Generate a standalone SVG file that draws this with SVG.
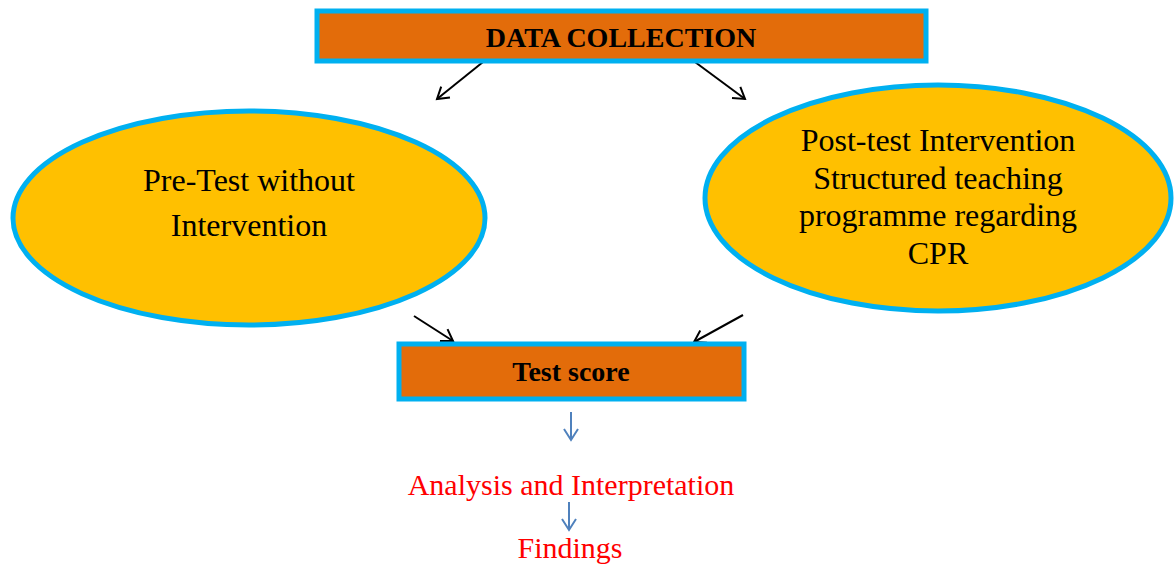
<svg xmlns="http://www.w3.org/2000/svg" width="1176" height="571" viewBox="0 0 1176 571">
<defs>
<style>
.box{fill:#E36C0A;stroke:#00B0F0;stroke-width:5}
.ell{fill:#FFC000;stroke:#00B0F0;stroke-width:5}
.bt{font-family:"Liberation Serif",serif;font-weight:bold;font-size:28px;fill:#000;text-anchor:middle}
.et{font-family:"Liberation Serif",serif;font-size:32px;fill:#000;text-anchor:middle}
.rt{font-family:"Liberation Serif",serif;font-size:30px;fill:#FF0000;text-anchor:middle}
.k{stroke:#000;stroke-width:2;fill:none}
.b{stroke:#4F81BD;stroke-width:2;fill:none}
</style>
<marker id="ah" markerWidth="18" markerHeight="18" refX="13" refY="9" orient="auto" markerUnits="userSpaceOnUse">
<path d="M2,2 L13,9 L2,16" fill="none" stroke="#000" stroke-width="2"/>
</marker>
<marker id="ab" markerWidth="18" markerHeight="18" refX="13" refY="9" orient="auto" markerUnits="userSpaceOnUse">
<path d="M2,2 L13,9 L2,16" fill="none" stroke="#4F81BD" stroke-width="2"/>
</marker>
</defs>
<rect width="1176" height="571" fill="#fff"/>
<g id="connectors">
<line class="k" x1="483" y1="62" x2="437" y2="99" marker-end="url(#ah)"/>
<line class="k" x1="695" y1="62" x2="745" y2="99" marker-end="url(#ah)"/>
<line class="k" x1="414" y1="316" x2="453" y2="341" marker-end="url(#ah)"/>
<line class="k" x1="743" y1="315" x2="694" y2="342" marker-end="url(#ah)"/>
<line class="b" x1="571" y1="412" x2="571" y2="440" marker-end="url(#ab)"/>
<line class="b" x1="569" y1="502" x2="569" y2="530" marker-end="url(#ab)"/>
</g>
<g id="data-collection">
<rect class="box" x="317" y="11" width="609" height="50"/>
<text class="bt" x="621" y="47">DATA COLLECTION</text>
</g>
<g id="pre-test">
<ellipse class="ell" cx="249" cy="218" rx="236" ry="107"/>
<text class="et" x="249" y="191">Pre-Test without</text>
<text class="et" x="249" y="236">Intervention</text>
</g>
<g id="post-test">
<ellipse class="ell" cx="938" cy="198" rx="233" ry="113"/>
<text class="et" x="938" y="151">Post-test Intervention</text>
<text class="et" x="938" y="189">Structured teaching</text>
<text class="et" x="938" y="226">programme regarding</text>
<text class="et" x="938" y="264">CPR</text>
</g>
<g id="test-score">
<rect class="box" x="399" y="344" width="345" height="55"/>
<text class="bt" x="571" y="381">Test score</text>
</g>
<g id="analysis">
<text class="rt" x="571" y="495">Analysis and Interpretation</text>
</g>
<g id="findings">
<text class="rt" x="570" y="558">Findings</text>
</g>
</svg>
